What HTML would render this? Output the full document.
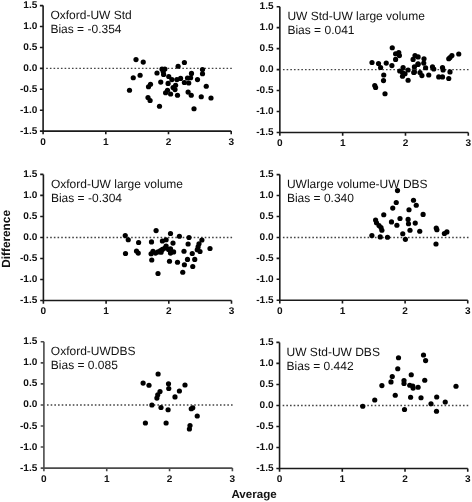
<!DOCTYPE html>
<html><head><meta charset="utf-8"><style>
html,body{margin:0;padding:0;background:#fff;width:472px;height:502px;overflow:hidden}
svg{display:block;will-change:transform}
text{font-family:"Liberation Sans",sans-serif;fill:#111;text-rendering:geometricPrecision}
.tk{font-size:9.7px;font-weight:bold}
.tt{font-size:12px}
.ax{font-size:11.6px;font-weight:bold}
circle{fill:#000}
</style></head><body>
<svg width="472" height="502" viewBox="0 0 472 502">

<line x1="46.20" y1="68.35" x2="232.20" y2="68.35" stroke="#444" stroke-width="1.4" stroke-dasharray="1.6 2.08"/>
<path d="M43.10,5.60V131.10H231.20" fill="none" stroke="#1a1a1a" stroke-width="1.6"/>
<path d="M39.90,5.60H43.10M39.90,26.52H43.10M39.90,47.43H43.10M39.90,68.35H43.10M39.90,89.27H43.10M39.90,110.18H43.10M39.90,131.10H43.10M43.10,131.10V134.30M105.80,131.10V134.30M168.50,131.10V134.30M231.20,131.10V134.30" fill="none" stroke="#1a1a1a" stroke-width="1.6"/>
<text transform="translate(37.30,8.10) scale(1.04,1)" class="tk" text-anchor="end">1.5</text>
<text transform="translate(37.30,29.02) scale(1.04,1)" class="tk" text-anchor="end">1.0</text>
<text transform="translate(37.30,49.93) scale(1.04,1)" class="tk" text-anchor="end">0.5</text>
<text transform="translate(37.30,70.85) scale(1.04,1)" class="tk" text-anchor="end">0.0</text>
<text transform="translate(37.30,91.77) scale(1.04,1)" class="tk" text-anchor="end">-0.5</text>
<text transform="translate(37.30,112.68) scale(1.04,1)" class="tk" text-anchor="end">-1.0</text>
<text transform="translate(37.30,133.60) scale(1.04,1)" class="tk" text-anchor="end">-1.5</text>
<text transform="translate(43.10,144.60) scale(1.04,1)" class="tk" text-anchor="middle">0</text>
<text transform="translate(105.80,144.60) scale(1.04,1)" class="tk" text-anchor="middle">1</text>
<text transform="translate(168.50,144.60) scale(1.04,1)" class="tk" text-anchor="middle">2</text>
<text transform="translate(231.20,144.60) scale(1.04,1)" class="tk" text-anchor="middle">3</text>
<text x="50.45" y="19.10" class="tt">Oxford-UW Std</text>
<text x="50.45" y="33.00" class="tt">Bias = -0.354</text>
<circle cx="136.0" cy="59.6" r="2.6"/>
<circle cx="143.25" cy="62.1" r="2.6"/>
<circle cx="133.25" cy="77.75" r="2.6"/>
<circle cx="140.1" cy="75.25" r="2.6"/>
<circle cx="129.5" cy="90.25" r="2.6"/>
<circle cx="150.5" cy="84.25" r="2.6"/>
<circle cx="148.5" cy="86.75" r="2.6"/>
<circle cx="148" cy="97.5" r="2.6"/>
<circle cx="150.1" cy="100.5" r="2.6"/>
<circle cx="159.5" cy="106.25" r="2.6"/>
<circle cx="157" cy="73" r="2.6"/>
<circle cx="160.75" cy="82.1" r="2.6"/>
<circle cx="162" cy="69" r="2.6"/>
<circle cx="164.85" cy="69" r="2.6"/>
<circle cx="163.25" cy="71.5" r="2.6"/>
<circle cx="163.6" cy="74.4" r="2.6"/>
<circle cx="168.75" cy="76.5" r="2.6"/>
<circle cx="171.9" cy="79.6" r="2.6"/>
<circle cx="176.9" cy="79.6" r="2.6"/>
<circle cx="180.6" cy="78.4" r="2.6"/>
<circle cx="187.5" cy="78" r="2.6"/>
<circle cx="190.6" cy="77.75" r="2.6"/>
<circle cx="197.5" cy="79.6" r="2.6"/>
<circle cx="184.4" cy="82.5" r="2.6"/>
<circle cx="188.75" cy="83" r="2.6"/>
<circle cx="168.1" cy="83.4" r="2.6"/>
<circle cx="175.6" cy="85.25" r="2.6"/>
<circle cx="173.1" cy="87.5" r="2.6"/>
<circle cx="175" cy="89.6" r="2.6"/>
<circle cx="167.5" cy="90.25" r="2.6"/>
<circle cx="165.6" cy="92.75" r="2.6"/>
<circle cx="170.6" cy="94" r="2.6"/>
<circle cx="177.5" cy="95.25" r="2.6"/>
<circle cx="188.1" cy="92.1" r="2.6"/>
<circle cx="191.25" cy="95.25" r="2.6"/>
<circle cx="206.25" cy="86.25" r="2.6"/>
<circle cx="201.25" cy="96.75" r="2.6"/>
<circle cx="211" cy="98" r="2.6"/>
<circle cx="194" cy="108.75" r="2.6"/>
<circle cx="184.4" cy="62.5" r="2.6"/>
<circle cx="178.1" cy="66.25" r="2.6"/>
<circle cx="202.5" cy="69.6" r="2.6"/>
<circle cx="202.5" cy="73.75" r="2.6"/>
<circle cx="191.5" cy="73.4" r="2.6"/>
<line x1="282.95" y1="69.60" x2="469.30" y2="69.60" stroke="#444" stroke-width="1.4" stroke-dasharray="1.6 2.08"/>
<path d="M279.85,6.70V132.50H468.30" fill="none" stroke="#1a1a1a" stroke-width="1.6"/>
<path d="M276.65,6.70H279.85M276.65,27.67H279.85M276.65,48.63H279.85M276.65,69.60H279.85M276.65,90.57H279.85M276.65,111.53H279.85M276.65,132.50H279.85M279.85,132.50V135.70M342.67,132.50V135.70M405.48,132.50V135.70M468.30,132.50V135.70" fill="none" stroke="#1a1a1a" stroke-width="1.6"/>
<text transform="translate(273.55,9.20) scale(1.04,1)" class="tk" text-anchor="end">1.5</text>
<text transform="translate(273.55,30.17) scale(1.04,1)" class="tk" text-anchor="end">1.0</text>
<text transform="translate(273.55,51.13) scale(1.04,1)" class="tk" text-anchor="end">0.5</text>
<text transform="translate(273.55,72.10) scale(1.04,1)" class="tk" text-anchor="end">0.0</text>
<text transform="translate(273.55,93.07) scale(1.04,1)" class="tk" text-anchor="end">-0.5</text>
<text transform="translate(273.55,114.03) scale(1.04,1)" class="tk" text-anchor="end">-1.0</text>
<text transform="translate(273.55,135.00) scale(1.04,1)" class="tk" text-anchor="end">-1.5</text>
<text transform="translate(279.85,146.00) scale(1.04,1)" class="tk" text-anchor="middle">0</text>
<text transform="translate(342.67,146.00) scale(1.04,1)" class="tk" text-anchor="middle">1</text>
<text transform="translate(405.48,146.00) scale(1.04,1)" class="tk" text-anchor="middle">2</text>
<text transform="translate(468.30,146.00) scale(1.04,1)" class="tk" text-anchor="middle">3</text>
<text x="287.45" y="20.20" class="tt">UW Std-UW large volume</text>
<text x="287.45" y="34.10" class="tt">Bias = 0.041</text>
<circle cx="372" cy="62.5" r="2.6"/>
<circle cx="378.5" cy="63.5" r="2.6"/>
<circle cx="380.6" cy="67.5" r="2.6"/>
<circle cx="386.25" cy="63.1" r="2.6"/>
<circle cx="391.9" cy="65.6" r="2.6"/>
<circle cx="383.75" cy="75" r="2.6"/>
<circle cx="383.5" cy="80.6" r="2.6"/>
<circle cx="374.75" cy="85.6" r="2.6"/>
<circle cx="375.6" cy="87.5" r="2.6"/>
<circle cx="385" cy="93.75" r="2.6"/>
<circle cx="392.25" cy="47.75" r="2.6"/>
<circle cx="395.6" cy="53.75" r="2.6"/>
<circle cx="398.75" cy="52.5" r="2.6"/>
<circle cx="399.4" cy="55.6" r="2.6"/>
<circle cx="395.6" cy="59.4" r="2.6"/>
<circle cx="399.75" cy="71" r="2.6"/>
<circle cx="403.1" cy="67.5" r="2.6"/>
<circle cx="402.5" cy="72.5" r="2.6"/>
<circle cx="405" cy="73.75" r="2.6"/>
<circle cx="402.5" cy="76.25" r="2.6"/>
<circle cx="408.1" cy="70" r="2.6"/>
<circle cx="408.1" cy="80.25" r="2.6"/>
<circle cx="415" cy="55.6" r="2.6"/>
<circle cx="418.1" cy="56.9" r="2.6"/>
<circle cx="413.1" cy="59.4" r="2.6"/>
<circle cx="424" cy="58.75" r="2.6"/>
<circle cx="418.1" cy="63.75" r="2.6"/>
<circle cx="423.75" cy="63.1" r="2.6"/>
<circle cx="414.4" cy="66.9" r="2.6"/>
<circle cx="414.4" cy="71.9" r="2.6"/>
<circle cx="420" cy="72.5" r="2.6"/>
<circle cx="421.9" cy="75.6" r="2.6"/>
<circle cx="425.6" cy="67.75" r="2.6"/>
<circle cx="432.5" cy="66.9" r="2.6"/>
<circle cx="433.75" cy="69" r="2.6"/>
<circle cx="428.75" cy="75" r="2.6"/>
<circle cx="442.5" cy="67.5" r="2.6"/>
<circle cx="443.1" cy="70" r="2.6"/>
<circle cx="450" cy="71.9" r="2.6"/>
<circle cx="438.75" cy="76.9" r="2.6"/>
<circle cx="442.5" cy="76.9" r="2.6"/>
<circle cx="448.75" cy="78.5" r="2.6"/>
<circle cx="450" cy="57.5" r="2.6"/>
<circle cx="448.75" cy="58.75" r="2.6"/>
<circle cx="451.9" cy="55.6" r="2.6"/>
<circle cx="458.75" cy="54" r="2.6"/>
<circle cx="413.75" cy="72.5" r="2.6"/>
<circle cx="418" cy="64.4" r="2.6"/>
<line x1="46.50" y1="237.45" x2="232.50" y2="237.45" stroke="#444" stroke-width="1.4" stroke-dasharray="1.6 2.08"/>
<path d="M43.40,174.40V300.50H231.50" fill="none" stroke="#1a1a1a" stroke-width="1.6"/>
<path d="M40.20,174.40H43.40M40.20,195.42H43.40M40.20,216.43H43.40M40.20,237.45H43.40M40.20,258.47H43.40M40.20,279.48H43.40M40.20,300.50H43.40M43.40,300.50V303.70M106.10,300.50V303.70M168.80,300.50V303.70M231.50,300.50V303.70" fill="none" stroke="#1a1a1a" stroke-width="1.6"/>
<text transform="translate(37.30,176.90) scale(1.04,1)" class="tk" text-anchor="end">1.5</text>
<text transform="translate(37.30,197.92) scale(1.04,1)" class="tk" text-anchor="end">1.0</text>
<text transform="translate(37.30,218.93) scale(1.04,1)" class="tk" text-anchor="end">0.5</text>
<text transform="translate(37.30,239.95) scale(1.04,1)" class="tk" text-anchor="end">0.0</text>
<text transform="translate(37.30,260.97) scale(1.04,1)" class="tk" text-anchor="end">-0.5</text>
<text transform="translate(37.30,281.98) scale(1.04,1)" class="tk" text-anchor="end">-1.0</text>
<text transform="translate(37.30,303.00) scale(1.04,1)" class="tk" text-anchor="end">-1.5</text>
<text transform="translate(43.40,314.00) scale(1.04,1)" class="tk" text-anchor="middle">0</text>
<text transform="translate(106.10,314.00) scale(1.04,1)" class="tk" text-anchor="middle">1</text>
<text transform="translate(168.80,314.00) scale(1.04,1)" class="tk" text-anchor="middle">2</text>
<text transform="translate(231.50,314.00) scale(1.04,1)" class="tk" text-anchor="middle">3</text>
<text x="50.95" y="187.90" class="tt">Oxford-UW large volume</text>
<text x="50.95" y="201.80" class="tt">Bias = -0.304</text>
<circle cx="125.25" cy="235.6" r="2.6"/>
<circle cx="128.25" cy="239.75" r="2.6"/>
<circle cx="125.5" cy="253.5" r="2.6"/>
<circle cx="138.6" cy="242.5" r="2.6"/>
<circle cx="136.5" cy="251" r="2.6"/>
<circle cx="138.25" cy="253.1" r="2.6"/>
<circle cx="156.1" cy="230.6" r="2.6"/>
<circle cx="151.5" cy="241.9" r="2.6"/>
<circle cx="151.75" cy="260" r="2.6"/>
<circle cx="158" cy="273.5" r="2.6"/>
<circle cx="170.5" cy="233.5" r="2.6"/>
<circle cx="162.4" cy="241" r="2.6"/>
<circle cx="166.1" cy="239.75" r="2.6"/>
<circle cx="173" cy="243.1" r="2.6"/>
<circle cx="166.1" cy="246" r="2.6"/>
<circle cx="151.1" cy="253.75" r="2.6"/>
<circle cx="153" cy="251.25" r="2.6"/>
<circle cx="155.5" cy="253.1" r="2.6"/>
<circle cx="158" cy="251.9" r="2.6"/>
<circle cx="160.5" cy="250.6" r="2.6"/>
<circle cx="162.4" cy="249.4" r="2.6"/>
<circle cx="164.9" cy="248.1" r="2.6"/>
<circle cx="161.1" cy="252.25" r="2.6"/>
<circle cx="168.6" cy="249.4" r="2.6"/>
<circle cx="170.5" cy="253.1" r="2.6"/>
<circle cx="173.6" cy="251.9" r="2.6"/>
<circle cx="169.5" cy="261.25" r="2.6"/>
<circle cx="170.5" cy="248.75" r="2.6"/>
<circle cx="179.4" cy="236.25" r="2.6"/>
<circle cx="189" cy="237.5" r="2.6"/>
<circle cx="188.1" cy="244" r="2.6"/>
<circle cx="201.9" cy="240" r="2.6"/>
<circle cx="199" cy="243.75" r="2.6"/>
<circle cx="198.1" cy="246.9" r="2.6"/>
<circle cx="197.25" cy="249.75" r="2.6"/>
<circle cx="200" cy="251.5" r="2.6"/>
<circle cx="210" cy="248.5" r="2.6"/>
<circle cx="184" cy="251.25" r="2.6"/>
<circle cx="192.25" cy="253.5" r="2.6"/>
<circle cx="187.5" cy="259.4" r="2.6"/>
<circle cx="194.75" cy="259.4" r="2.6"/>
<circle cx="177.5" cy="262.25" r="2.6"/>
<circle cx="184.4" cy="264.75" r="2.6"/>
<circle cx="192.75" cy="266.5" r="2.6"/>
<circle cx="182.75" cy="272.25" r="2.6"/>
<line x1="282.90" y1="237.43" x2="468.75" y2="237.43" stroke="#444" stroke-width="1.4" stroke-dasharray="1.6 2.08"/>
<path d="M279.80,174.60V300.25H467.75" fill="none" stroke="#1a1a1a" stroke-width="1.6"/>
<path d="M276.60,174.60H279.80M276.60,195.54H279.80M276.60,216.48H279.80M276.60,237.43H279.80M276.60,258.37H279.80M276.60,279.31H279.80M276.60,300.25H279.80M279.80,300.25V303.45M342.45,300.25V303.45M405.10,300.25V303.45M467.75,300.25V303.45" fill="none" stroke="#1a1a1a" stroke-width="1.6"/>
<text transform="translate(273.55,177.10) scale(1.04,1)" class="tk" text-anchor="end">1.5</text>
<text transform="translate(273.55,198.04) scale(1.04,1)" class="tk" text-anchor="end">1.0</text>
<text transform="translate(273.55,218.98) scale(1.04,1)" class="tk" text-anchor="end">0.5</text>
<text transform="translate(273.55,239.93) scale(1.04,1)" class="tk" text-anchor="end">0.0</text>
<text transform="translate(273.55,260.87) scale(1.04,1)" class="tk" text-anchor="end">-0.5</text>
<text transform="translate(273.55,281.81) scale(1.04,1)" class="tk" text-anchor="end">-1.0</text>
<text transform="translate(273.55,302.75) scale(1.04,1)" class="tk" text-anchor="end">-1.5</text>
<text transform="translate(279.80,313.75) scale(1.04,1)" class="tk" text-anchor="middle">0</text>
<text transform="translate(342.45,313.75) scale(1.04,1)" class="tk" text-anchor="middle">1</text>
<text transform="translate(405.10,313.75) scale(1.04,1)" class="tk" text-anchor="middle">2</text>
<text transform="translate(467.75,313.75) scale(1.04,1)" class="tk" text-anchor="middle">3</text>
<text x="286.90" y="188.10" class="tt">UWlarge volume-UW DBS</text>
<text x="286.90" y="202.00" class="tt">Bias = 0.340</text>
<circle cx="397.5" cy="190.6" r="2.6"/>
<circle cx="396.25" cy="202.5" r="2.6"/>
<circle cx="392.75" cy="208.1" r="2.6"/>
<circle cx="383.75" cy="214.75" r="2.6"/>
<circle cx="391.5" cy="221.9" r="2.6"/>
<circle cx="396.9" cy="225.25" r="2.6"/>
<circle cx="375.6" cy="220" r="2.6"/>
<circle cx="376.5" cy="222.75" r="2.6"/>
<circle cx="379" cy="225.6" r="2.6"/>
<circle cx="381" cy="227.5" r="2.6"/>
<circle cx="381.9" cy="230.25" r="2.6"/>
<circle cx="371.9" cy="235.6" r="2.6"/>
<circle cx="380.25" cy="236.9" r="2.6"/>
<circle cx="387.5" cy="237.25" r="2.6"/>
<circle cx="413.5" cy="200.25" r="2.6"/>
<circle cx="416.25" cy="205.25" r="2.6"/>
<circle cx="409" cy="209.75" r="2.6"/>
<circle cx="423.1" cy="214.4" r="2.6"/>
<circle cx="400" cy="218.5" r="2.6"/>
<circle cx="408.1" cy="219.4" r="2.6"/>
<circle cx="408.5" cy="223.75" r="2.6"/>
<circle cx="415.25" cy="223.1" r="2.6"/>
<circle cx="410" cy="230.25" r="2.6"/>
<circle cx="419.75" cy="231.25" r="2.6"/>
<circle cx="402.75" cy="233.75" r="2.6"/>
<circle cx="405.4" cy="239.3" r="2.6"/>
<circle cx="436.25" cy="228.1" r="2.6"/>
<circle cx="436.9" cy="229.75" r="2.6"/>
<circle cx="444.4" cy="233.5" r="2.6"/>
<circle cx="446.9" cy="231.9" r="2.6"/>
<circle cx="436" cy="244" r="2.6"/>
<line x1="47.00" y1="404.95" x2="233.40" y2="404.95" stroke="#444" stroke-width="1.4" stroke-dasharray="1.6 2.08"/>
<path d="M43.90,341.80V468.10H232.40" fill="none" stroke="#4a4a4a" stroke-width="1.6"/>
<path d="M40.70,341.80H43.90M40.70,362.85H43.90M40.70,383.90H43.90M40.70,404.95H43.90M40.70,426.00H43.90M40.70,447.05H43.90M40.70,468.10H43.90M43.90,468.10V471.30M106.73,468.10V471.30M169.57,468.10V471.30M232.40,468.10V471.30" fill="none" stroke="#4a4a4a" stroke-width="1.6"/>
<text transform="translate(37.30,344.30) scale(1.04,1)" class="tk" text-anchor="end">1.5</text>
<text transform="translate(37.30,365.35) scale(1.04,1)" class="tk" text-anchor="end">1.0</text>
<text transform="translate(37.30,386.40) scale(1.04,1)" class="tk" text-anchor="end">0.5</text>
<text transform="translate(37.30,407.45) scale(1.04,1)" class="tk" text-anchor="end">0.0</text>
<text transform="translate(37.30,428.50) scale(1.04,1)" class="tk" text-anchor="end">-0.5</text>
<text transform="translate(37.30,449.55) scale(1.04,1)" class="tk" text-anchor="end">-1.0</text>
<text transform="translate(37.30,470.60) scale(1.04,1)" class="tk" text-anchor="end">-1.5</text>
<text transform="translate(43.90,481.60) scale(1.04,1)" class="tk" text-anchor="middle">0</text>
<text transform="translate(106.73,481.60) scale(1.04,1)" class="tk" text-anchor="middle">1</text>
<text transform="translate(169.57,481.60) scale(1.04,1)" class="tk" text-anchor="middle">2</text>
<text transform="translate(232.40,481.60) scale(1.04,1)" class="tk" text-anchor="middle">3</text>
<text x="50.80" y="355.30" class="tt">Oxford-UWDBS</text>
<text x="50.80" y="369.20" class="tt">Bias = 0.085</text>
<circle cx="158.1" cy="374" r="2.6"/>
<circle cx="143.1" cy="383.1" r="2.6"/>
<circle cx="149" cy="385.25" r="2.6"/>
<circle cx="168.5" cy="383.75" r="2.6"/>
<circle cx="168.75" cy="388.5" r="2.6"/>
<circle cx="185" cy="385" r="2.6"/>
<circle cx="160" cy="391.5" r="2.6"/>
<circle cx="157.75" cy="394.75" r="2.6"/>
<circle cx="156.9" cy="398.1" r="2.6"/>
<circle cx="179.4" cy="391" r="2.6"/>
<circle cx="175" cy="396.9" r="2.6"/>
<circle cx="151.9" cy="405" r="2.6"/>
<circle cx="161" cy="407.5" r="2.6"/>
<circle cx="168.1" cy="409.75" r="2.6"/>
<circle cx="145.4" cy="423" r="2.6"/>
<circle cx="166.1" cy="423" r="2.6"/>
<circle cx="191.25" cy="408.75" r="2.6"/>
<circle cx="192.75" cy="407.75" r="2.6"/>
<circle cx="197.25" cy="416" r="2.6"/>
<circle cx="190" cy="425.6" r="2.6"/>
<circle cx="189.4" cy="429" r="2.6"/>
<line x1="282.65" y1="405.45" x2="468.75" y2="405.45" stroke="#444" stroke-width="1.4" stroke-dasharray="1.6 2.08"/>
<path d="M279.55,342.40V468.50H467.75" fill="none" stroke="#1a1a1a" stroke-width="1.6"/>
<path d="M276.35,342.40H279.55M276.35,363.42H279.55M276.35,384.43H279.55M276.35,405.45H279.55M276.35,426.47H279.55M276.35,447.48H279.55M276.35,468.50H279.55M279.55,468.50V471.70M342.28,468.50V471.70M405.02,468.50V471.70M467.75,468.50V471.70" fill="none" stroke="#1a1a1a" stroke-width="1.6"/>
<text transform="translate(273.55,344.90) scale(1.04,1)" class="tk" text-anchor="end">1.5</text>
<text transform="translate(273.55,365.92) scale(1.04,1)" class="tk" text-anchor="end">1.0</text>
<text transform="translate(273.55,386.93) scale(1.04,1)" class="tk" text-anchor="end">0.5</text>
<text transform="translate(273.55,407.95) scale(1.04,1)" class="tk" text-anchor="end">0.0</text>
<text transform="translate(273.55,428.97) scale(1.04,1)" class="tk" text-anchor="end">-0.5</text>
<text transform="translate(273.55,449.98) scale(1.04,1)" class="tk" text-anchor="end">-1.0</text>
<text transform="translate(273.55,471.00) scale(1.04,1)" class="tk" text-anchor="end">-1.5</text>
<text transform="translate(279.55,482.00) scale(1.04,1)" class="tk" text-anchor="middle">0</text>
<text transform="translate(342.28,482.00) scale(1.04,1)" class="tk" text-anchor="middle">1</text>
<text transform="translate(405.02,482.00) scale(1.04,1)" class="tk" text-anchor="middle">2</text>
<text transform="translate(467.75,482.00) scale(1.04,1)" class="tk" text-anchor="middle">3</text>
<text x="286.55" y="355.90" class="tt">UW Std-UW DBS</text>
<text x="286.55" y="369.80" class="tt">Bias = 0.442</text>
<circle cx="362.75" cy="406.25" r="2.6"/>
<circle cx="374.75" cy="400" r="2.6"/>
<circle cx="381.9" cy="385.6" r="2.6"/>
<circle cx="391" cy="381.9" r="2.6"/>
<circle cx="392.25" cy="376.5" r="2.6"/>
<circle cx="397.75" cy="368.75" r="2.6"/>
<circle cx="398.5" cy="357.75" r="2.6"/>
<circle cx="395.25" cy="395.25" r="2.6"/>
<circle cx="404" cy="380.6" r="2.6"/>
<circle cx="404" cy="383.5" r="2.6"/>
<circle cx="411.25" cy="374.75" r="2.6"/>
<circle cx="409.75" cy="385.25" r="2.6"/>
<circle cx="412.75" cy="386" r="2.6"/>
<circle cx="413.1" cy="388.1" r="2.6"/>
<circle cx="418.1" cy="387.25" r="2.6"/>
<circle cx="410.6" cy="397.25" r="2.6"/>
<circle cx="404.5" cy="409.5" r="2.6"/>
<circle cx="421" cy="397.75" r="2.6"/>
<circle cx="423.5" cy="355" r="2.6"/>
<circle cx="425.6" cy="360.6" r="2.6"/>
<circle cx="424.75" cy="380.25" r="2.6"/>
<circle cx="431" cy="403.75" r="2.6"/>
<circle cx="436.7" cy="397" r="2.6"/>
<circle cx="436.5" cy="411.25" r="2.6"/>
<circle cx="445.25" cy="402" r="2.6"/>
<circle cx="456" cy="386.25" r="2.6"/>
<text class="ax" x="254.1" y="498" text-anchor="middle">Average</text>
<text class="ax" style="font-size:11.8px" transform="translate(9.8,238.9) rotate(-90)" text-anchor="middle">Difference</text>
</svg>
</body></html>
